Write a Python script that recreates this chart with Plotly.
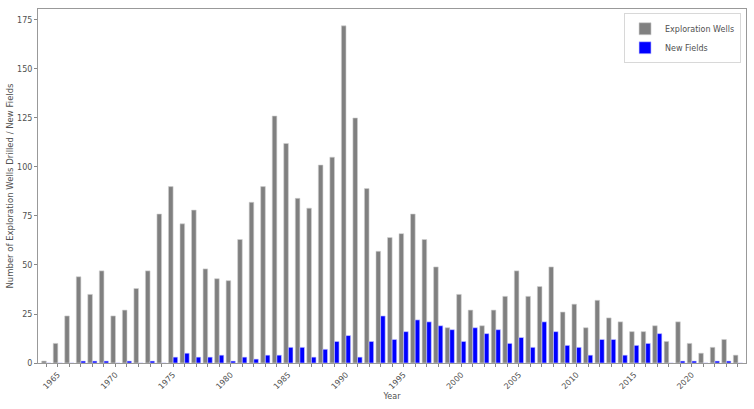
import plotly.graph_objects as go

years = list(range(1964, 2025))

exploration_wells = [
    1, 10, 24, 44, 35, 47, 24, 27, 38, 47,
    76, 90, 71, 78, 48, 43, 42, 63, 82, 90,
    126, 112, 84, 79, 101, 105, 172, 125, 89, 57,
    64, 66, 76, 63, 49, 18, 35, 27, 19, 27,
    34, 47, 34, 39, 49, 26, 30, 18, 32, 23,
    21, 16, 16, 19, 11, 21, 10, 5, 8, 12,
    4,
]

new_fields = [
    0, 0, 0, 1, 1, 1, 0, 1, 0, 1,
    0, 3, 5, 3, 3, 4, 1, 3, 2, 4,
    4, 8, 8, 3, 7, 11, 14, 3, 11, 24,
    12, 16, 22, 21, 19, 17, 11, 18, 15, 17,
    10, 13, 8, 21, 16, 9, 8, 4, 12, 12,
    4, 9, 10, 15, 0, 1, 1, 0, 1, 1,
    0,
]

tick_text = [str(y) if y % 5 == 0 else "" for y in years]

font_family = "DejaVu Sans"
text_color = "#505050"

fig = go.Figure()
fig.add_trace(go.Bar(
    x=years, y=exploration_wells, name="Exploration Wells",
    marker=dict(color="#808080", line=dict(color="#d0d0d0", width=0.6)),
))
fig.add_trace(go.Bar(
    x=years, y=new_fields, name="New Fields",
    marker=dict(color="#0000ff", line=dict(color="#d0d0ff", width=0.6)),
))

fig.update_layout(
    width=754, height=409,
    margin=dict(l=38, r=8, t=9, b=46, autoexpand=False),
    paper_bgcolor="white", plot_bgcolor="white",
    barmode="group", bargap=0.2, bargroupgap=0.0,
    font=dict(family=font_family, size=8, color=text_color),
    showlegend=True,
    legend=dict(
        x=0.993, y=0.988, xanchor="right", yanchor="top",
        bordercolor="#d8d8d8", borderwidth=1, bgcolor="rgba(255,255,255,0.8)",
        font=dict(size=8, color=text_color),
        itemwidth=30, tracegroupgap=0,
    ),
)

fig.update_xaxes(
    range=[1963.28, 2024.7], automargin=False,
    tickmode="array", tickvals=years, ticktext=tick_text,
    tickangle=-45, ticks="outside", ticklen=3, tickwidth=0.8, tickcolor="#888888",
    showgrid=False, zeroline=False,
    showline=True, linecolor="#999999", linewidth=1, mirror=True,
    title=dict(text="Year", font=dict(size=8, color=text_color), standoff=3),
    tickfont=dict(size=8, color=text_color),
)
fig.update_yaxes(
    range=[0, 180.6], automargin=False,
    tickvals=[0, 25, 50, 75, 100, 125, 150, 175],
    ticks="outside", ticklen=3, tickwidth=0.8, tickcolor="#888888",
    showgrid=False, zeroline=False,
    showline=True, linecolor="#999999", linewidth=1, mirror=True,
    title=dict(text="Number of Exploration Wells Drilled / New Fields",
               font=dict(size=8.5, color=text_color), standoff=2),
    tickfont=dict(size=8, color=text_color),
)

fig.write_html(
    "out.html",
    config={"displayModeBar": False},
    post_script="document.body.style.margin='0';document.body.style.padding='0';",
)
